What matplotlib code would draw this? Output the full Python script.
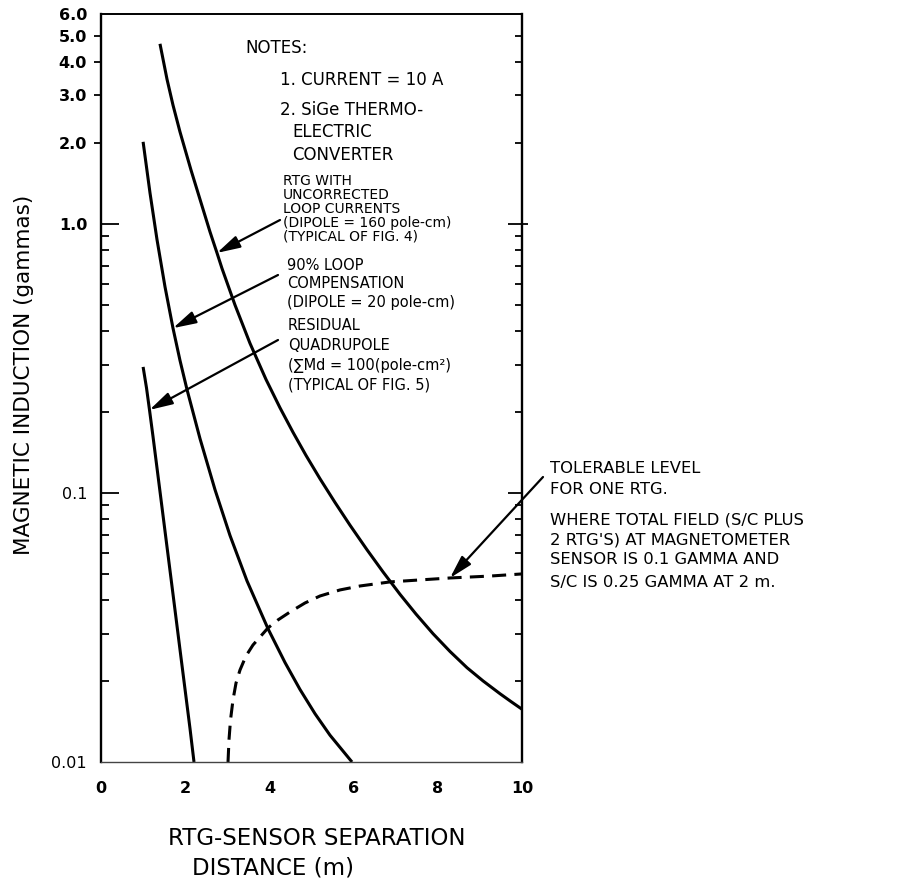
import matplotlib
matplotlib.use("Agg")
import matplotlib.pyplot as plt
from matplotlib.ticker import FixedLocator, NullFormatter, NullLocator

plt.rcParams['font.family'] = ['DejaVu Sans']

# ---------------- data ----------------
# RTG with uncorrected loop currents (dipole = 160 pole-cm)
uncorr_x = [1.401, 1.568, 1.710, 1.876, 2.138, 2.352, 2.589, 2.755, 2.874,
            3.183, 3.539, 3.919, 4.252, 4.561, 4.869, 5.202, 5.558, 5.914,
            6.318, 6.698, 7.102, 7.482, 7.886, 8.290, 8.694, 9.074, 9.477,
            9.739, 10.0]
uncorr_y = [4.669, 3.447, 2.764, 2.198, 1.585, 1.233, 0.934, 0.780, 0.683,
            0.4994, 0.3598, 0.2642, 0.2072, 0.1680, 0.1379, 0.1129, 0.0922,
            0.0759, 0.0615, 0.0509, 0.0420, 0.03547, 0.02999, 0.02575,
            0.02241, 0.02002, 0.01794, 0.01677, 0.01571]
# 90% loop compensation (dipole = 20 pole-cm)
comp_x = [1.00, 1.164, 1.330, 1.520, 1.710, 1.876, 2.043, 2.352, 2.708, 3.064,
          3.468, 3.967, 4.371, 4.727, 5.083, 5.439, 5.962]
comp_y = [2.018, 1.303, 0.8745, 0.5839, 0.4097, 0.3110, 0.2422, 0.1591, 0.1028,
          0.0695, 0.0471, 0.03128, 0.02342, 0.01860, 0.01512, 0.01258, 0.0100]
# Residual quadrupole
quad_x = [1.00, 1.081, 1.152, 1.235, 1.318, 1.413, 1.520, 1.639, 1.758, 1.876,
          1.995, 2.114, 2.209]
quad_y = [0.2940, 0.2456, 0.2035, 0.1622, 0.1282, 0.0979, 0.0722, 0.0515,
          0.0367, 0.02619, 0.01868, 0.01332, 0.0100]
# Tolerable level for one RTG (dashed)
tol_x = [3.017, 3.040, 3.076, 3.135, 3.207, 3.302, 3.444, 3.610, 3.777, 3.967,
         4.204, 4.489, 4.846, 5.202, 5.677, 6.152, 6.865, 7.577, 8.290, 9.240,
         10.0]
tol_y = [0.0100, 0.01207, 0.01432, 0.0170, 0.01966, 0.02198, 0.02478, 0.02722,
         0.02915, 0.0315, 0.03373, 0.0361, 0.0390, 0.0414, 0.0436, 0.0451,
         0.0467, 0.0475, 0.0483, 0.0491, 0.0500]

x_tick_vals = [0, 2, 4, 6, 8, 10]
x_tick_labels = ['0', '2', '4', '6', '8', '10']
x_mark_vals = [2, 4, 6, 8]
y_tick_vals = [0.01, 0.1, 1.0, 2.0, 3.0, 4.0, 5.0, 6.0]
y_tick_labels = ['0.01', '0.1', '1.0', '2.0', '3.0', '4.0', '5.0', '6.0']
y_minor_vals = [0.02, 0.03, 0.04, 0.05, 0.06, 0.07, 0.08, 0.09,
                0.2, 0.3, 0.4, 0.5, 0.6, 0.7, 0.8, 0.9]
y_long_vals = [0.1, 1.0]
y_upper_vals = [2.0, 3.0, 4.0, 5.0]

notes_lines = ["NOTES:", "1. CURRENT = 10 A", "2. SiGe THERMO-", "ELECTRIC", "CONVERTER"]
uncorr_lines = ["RTG WITH", "UNCORRECTED", "LOOP CURRENTS",
                "(DIPOLE = 160 pole-cm)", "(TYPICAL OF FIG. 4)"]
comp_lines = ["90% LOOP", "COMPENSATION", "(DIPOLE = 20 pole-cm)"]
quad_lines = ["RESIDUAL", "QUADRUPOLE", "(\u2211Md = 100(pole-cm\u00b2)", "(TYPICAL OF FIG. 5)"]
tol_lines = ["TOLERABLE LEVEL", "FOR ONE RTG."]
where_lines = ["WHERE TOTAL FIELD (S/C PLUS", "2 RTG'S) AT MAGNETOMETER",
               "SENSOR IS 0.1 GAMMA AND", "S/C IS 0.25 GAMMA AT 2 m."]

# ---------------- figure ----------------
W, H = 908, 880
fig = plt.figure(figsize=(W / 100, H / 100), dpi=100)
L, R, T, B = 101, 522, 14.5, 762
ax = fig.add_axes([L / W, 1 - B / H, (R - L) / W, (B - T) / H])
ax.set_yscale('log')
ax.set_xlim(0, 10)
ax.set_ylim(0.01, 6.0)

lw = 2.2
for xs, ys in [(uncorr_x, uncorr_y), (comp_x, comp_y), (quad_x, quad_y)]:
    ax.plot(xs, ys, color='black', lw=lw, solid_capstyle='butt',
            solid_joinstyle='round')
ax.plot(tol_x, tol_y, color='black', lw=lw, linestyle=(0, (4.6, 2.7)),
        dash_capstyle='butt', dash_joinstyle='round')

# spines
for side, w, c in [('left', 1.7, 'black'), ('right', 1.7, 'black'),
                   ('top', 1.4, 'black'), ('bottom', 1.0, '#444444')]:
    ax.spines[side].set_linewidth(w)
    ax.spines[side].set_color(c)

# x ticks
ax.set_xticks(x_tick_vals, x_tick_labels)
ax.tick_params(axis='x', which='major', length=0, pad=14, labelsize=11.5)
for lab in ax.get_xticklabels():
    lab.set_fontweight('bold')
ax.xaxis.set_minor_locator(FixedLocator(x_mark_vals))
ax.tick_params(axis='x', which='minor', direction='in', length=8.5, width=1.3,
               top=True, bottom=True)

# y ticks (labels + left inward minor ticks)
ax.set_yticks(y_tick_vals, y_tick_labels)
ax.yaxis.set_minor_locator(FixedLocator(y_minor_vals))
ax.yaxis.set_minor_formatter(NullFormatter())
ax.tick_params(axis='y', which='major', length=0, pad=10, labelsize=11.5)
ax.tick_params(axis='y', which='minor', direction='in', length=6, width=1.3,
               left=True, right=False)
for lab in ax.get_yticklabels():
    if lab.get_text() in ('0.1', '0.01'):
        lab.set_fontweight('normal')
    else:
        lab.set_fontweight('bold')


def sec_axis(loc, major, minor, direction, length, minor_len=0):
    s = ax.secondary_yaxis(loc)
    s.set_yticks(major)
    s.yaxis.set_major_formatter(NullFormatter())
    if minor:
        s.yaxis.set_minor_locator(FixedLocator(minor))
    else:
        s.yaxis.set_minor_locator(NullLocator())
    s.yaxis.set_minor_formatter(NullFormatter())
    s.tick_params(axis='y', which='major', direction=direction, length=length, width=1.3)
    s.tick_params(axis='y', which='minor', direction='in', length=minor_len, width=1.3)
    for sp in s.spines.values():
        sp.set_visible(False)
    return s


sec_axis('left', y_long_vals, None, 'in', 13)
sec_axis('left', y_upper_vals, None, 'out', 5)
sec_axis('right', y_long_vals, y_minor_vals + y_upper_vals, 'in', 10, minor_len=5)
sec_axis('right', [1.0], None, 'out', 4)

# axis labels
fig.text(24 / W, 1 - 375 / H, "MAGNETIC INDUCTION (gammas)", rotation=90,
         ha='center', va='center', fontsize=15.5)
fig.text(317 / W, 1 - 838 / H, "RTG-SENSOR SEPARATION", ha='center', va='center',
         fontsize=16.5)
fig.text(273 / W, 1 - 868 / H, "DISTANCE (m)", ha='center', va='center', fontsize=16.5)


def block(lines, xs, ys, size, weight='normal'):
    for s, x, y in zip(lines, xs, ys):
        fig.text(x / W, 1 - y / H, s, ha='left', va='center', fontsize=size,
                 fontweight=weight)


block(notes_lines, [245, 280, 280, 292, 292], [48, 80, 110, 132, 155], 12)
block(uncorr_lines, [283] * 5, [181, 195, 209, 223, 236], 10)
block(comp_lines, [287] * 3, [265, 283, 302], 10.5)
block(quad_lines, [288] * 4, [325, 345, 365, 385], 10.5)
block(tol_lines, [550] * 2, [468, 490], 11.8)
block(where_lines, [550] * 4, [520, 540, 560, 582], 11.8)

# arrows
aprops = dict(arrowstyle='-|>,head_length=0.7,head_width=0.19', color='black',
              lw=1.6, shrinkA=0, shrinkB=0, mutation_scale=20)
arrow_specs = [((uncorr_x[7], uncorr_y[7]), (280, 220)),
               ((comp_x[4], comp_y[4]), (278, 275)),
               ((quad_x[2], quad_y[2]), (278, 340)),
               ((tol_x[18], tol_y[18]), (543, 477))]
for tip, tail in arrow_specs:
    ax.annotate('', xy=tip, xycoords='data', xytext=(tail[0], H - tail[1]),
                textcoords='figure pixels', arrowprops=aprops,
                annotation_clip=False)

fig.savefig('out.png', dpi=100)
